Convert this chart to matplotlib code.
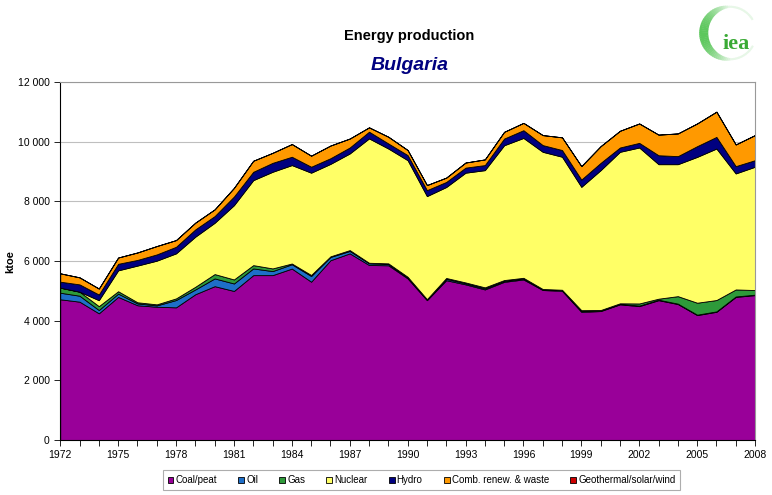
import numpy as np
import matplotlib
matplotlib.use('Agg')
import matplotlib.pyplot as plt
from matplotlib.patches import Arc
from matplotlib.ticker import FuncFormatter, MultipleLocator

plt.rcParams['font.family'] = ['Liberation Sans', 'DejaVu Sans']

# data (ktoe)
years = list(range(1972, 2009))
coal = [4720, 4640, 4250, 4800, 4520, 4470, 4450, 4890, 5160, 5000,
        5530, 5530, 5750, 5310, 6030, 6260, 5870, 5860, 5420, 4690,
        5360, 5220, 5050, 5305, 5385, 5030, 5005, 4300, 4325, 4550,
        4490, 4690, 4560, 4190, 4300, 4800, 4860]
oil = [220, 200, 110, 110, 60, 45, 245, 160, 260, 250,
       225, 135, 145, 190, 110, 80, 55, 40, 30, 20,
       45, 35, 35, 30, 30, 20, 20, 25, 15, 15,
       20, 15, 15, 15, 15, 15, 15]
gas = [170, 135, 130, 80, 40, 35, 55, 90, 145, 135,
       110, 90, 25, 35, 20, 30, 20, 25, 25, 15,
       30, 30, 35, 30, 25, 15, 15, 30, 20, 20,
       70, 35, 250, 400, 380, 235, 155]
nuclear = [0, 0, 200, 700, 1230, 1465, 1510, 1680, 1720, 2490,
           2850, 3240, 3300, 3430, 3100, 3240, 4170, 3850, 3910, 3455,
           3050, 3680, 3930, 4520, 4690, 4600, 4460, 4135, 4690, 5080,
           5230, 4510, 4425, 4890, 5080, 3890, 4135]
hydro = [200, 245, 190, 220, 190, 210, 220, 245, 225, 290,
         280, 300, 280, 200, 190, 200, 225, 170, 170, 200,
         170, 170, 170, 225, 260, 225, 225, 245, 245, 145,
         155, 300, 270, 360, 390, 245, 220]
comb = [280, 235, 200, 210, 250, 280, 225, 225, 225, 290,
        370, 335, 425, 370, 425, 300, 145, 225, 170, 170,
        145, 170, 190, 225, 245, 335, 425, 450, 560, 560,
        650, 690, 760, 760, 845, 725, 840]
geo = [0, 0, 0, 0, 0, 0, 0, 0, 0, 0,
       0, 0, 0, 0, 0, 0, 0, 0, 0, 0,
       0, 0, 0, 0, 0, 0, 0, 0, 0, 0,
       0, 2, 3, 3, 3, 4, 5]

labels = ['Coal/peat', 'Oil', 'Gas', 'Nuclear', 'Hydro',
          'Comb. renew. & waste', 'Geothermal/solar/wind']
colors = ['#990099', '#1E6FC8', '#2E9A3A', '#FFFF66', '#000080',
          '#FF9900', '#CC0000']

fig = plt.figure(figsize=(7.72, 4.95), dpi=100)
ax = fig.add_axes([0.078, 0.111, 0.900, 0.723])

polys = ax.stackplot(years, coal, oil, gas, nuclear, hydro, comb, geo,
                     colors=colors, labels=labels, edgecolor='black',
                     linewidth=0.6, zorder=2)

ax.set_xlim(1972, 2008)
ax.set_ylim(0, 12000)
ax.set_xticks(list(range(1972, 2009, 3)))
ax.xaxis.set_minor_locator(MultipleLocator(1))
ax.yaxis.set_major_locator(MultipleLocator(2000))
ax.yaxis.set_major_formatter(FuncFormatter(lambda v, p: f'{int(v):,}'.replace(',', ' ')))
ax.tick_params(axis='both', labelsize=7.5, length=4, direction='out', width=0.6)
ax.tick_params(axis='x', which='minor', length=4, width=0.6)
ax.grid(axis='y', color='#BFBFBF', linewidth=0.8, zorder=0)
ax.set_axisbelow(True)
for s in ['top', 'right']:
    ax.spines[s].set_color('#999999')
for s in ['left', 'bottom']:
    ax.spines[s].set_color('black')
    ax.spines[s].set_linewidth(0.8)
ax.set_ylabel('ktoe', fontsize=8, fontweight='bold', labelpad=2)

fig.text(0.530, 0.928, 'Energy production', ha='center', va='center',
         fontsize=10.5, fontweight='bold')
fig.text(0.531, 0.868, 'Bulgaria', ha='center', va='center',
         fontsize=14, fontweight='bold', style='italic', color='#000080')

# IEA logo: green ring fading towards the right, plus text
lax = fig.add_axes([0.9067, 0.8727, 0.0777, 0.1212])
lax.set_xlim(-1, 1)
lax.set_ylim(-1, 1)
lax.set_aspect('equal')
lax.axis('off')
dark = np.array([0.36, 0.78, 0.36])
for a in range(30, 330, 4):
    k = max(0.0, np.cos(np.radians(a - 180)))  # 1 at the left side
    c = 1 - (1 - dark) * (0.15 + 0.85 * k)
    lax.add_patch(Arc((0, 0), 1.75, 1.75, theta1=a, theta2=a + 5,
                      color=tuple(c), lw=1.5 + 5 * k, clip_on=False))
lax.text(0.2, -0.38, 'iea', ha='center', va='center', fontsize=16,
         fontweight='bold', color='#3AAA35', family='Liberation Serif')

leg = fig.legend(handles=polys, labels=labels, loc='center',
                 bbox_to_anchor=(0.546, 0.030), ncol=7, fontsize=7,
                 frameon=True, fancybox=False, edgecolor='#999999',
                 handlelength=0.6, handleheight=0.6, handletextpad=0.2,
                 columnspacing=2.2, borderpad=0.5)
leg.get_frame().set_linewidth(0.8)

plt.savefig('out.png', dpi=100)
